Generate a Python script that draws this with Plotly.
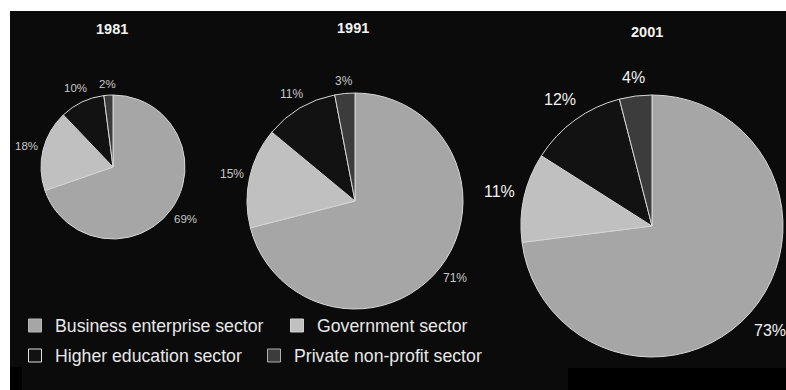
import math
import plotly.graph_objects as go

# --- data -------------------------------------------------------------
years = ["1981", "1991", "2001"]
sectors = [
    "Business enterprise sector",
    "Government sector",
    "Higher education sector",
    "Private non-profit sector",
]
shares_1981 = [69, 18, 10, 2]
shares_1991 = [71, 15, 11, 3]
shares_2001 = [73, 11, 12, 4]
shares_by_year = [shares_1981, shares_1991, shares_2001]

# --- styling ------------------------------------------------------------
W, H = 786, 390
BG = "#0b0b0b"
FONT = "Liberation Sans, Arial, sans-serif"
sector_colors = ["#a6a6a6", "#c0c0c0", "#121212", "#3c3c3c"]
swatch_lines = ["#b8b8b8", "#d0d0d0", "#e0e0e0", "#b0b0b0"]

# pie geometry in pixels: centre x, centre y (from top), radius
pie_geom = [(113, 167, 72), (355, 201, 108), (652, 226, 131)]
label_sizes = [11.5, 12, 16]
label_colors = ["#c8c8c8", "#c8c8c8", "#f2f2f2"]
label_gaps = [4, 4.5, 8]
title_pos = [(112, 29), (353, 28), (647, 32)]


def px_x(x):
    return x / W


def px_y(y):
    return (H - y) / H


fig = go.Figure()
annotations = []

for year, shares, (cx, cy, r), fs, fc, gap in zip(
    years, shares_by_year, pie_geom, label_sizes, label_colors, label_gaps
):
    fig.add_trace(
        go.Pie(
            labels=sectors,
            values=shares,
            name=year,
            sort=False,
            direction="clockwise",
            rotation=0,
            marker=dict(colors=sector_colors, line=dict(color="#d6d6d6", width=1)),
            textinfo="none",
            hoverinfo="skip",
            showlegend=False,
            domain=dict(
                x=[px_x(cx - r), px_x(cx + r)],
                y=[px_y(cy + r), px_y(cy - r)],
            ),
        )
    )

    # percentage labels placed just outside each slice, at its mid-angle
    total = sum(shares)
    cum = 0.0
    for v in shares:
        mid = (cum + v / 2) / total * 2 * math.pi
        cum += v
        text = f"{v}%"
        half_w = (0.556 * (len(text) - 1) + 0.889) * fs / 2
        half_h = 0.6 * fs
        sx, sy = math.sin(mid), -math.cos(mid)
        d = r + gap + abs(sx) * half_w + abs(sy) * half_h
        annotations.append(
            dict(
                text=text,
                x=px_x(cx + d * sx),
                y=px_y(cy + d * sy),
                xref="paper",
                yref="paper",
                showarrow=False,
                xanchor="center",
                yanchor="middle",
                font=dict(size=fs, color=fc, family=FONT),
            )
        )

# legend entries: two rows, each its own legend
legend_ids = ["legend", "legend", "legend2", "legend2"]
legend_widths = [217, 160, 194, 200]
for name, col, lc, lg, lw in zip(sectors, sector_colors, swatch_lines, legend_ids, legend_widths):
    fig.add_trace(
        go.Scatter(
            x=[None],
            y=[None],
            mode="markers",
            name=name,
            marker=dict(symbol="square", size=13, color=col, line=dict(color=lc, width=1)),
            legend=lg,
            legendwidth=lw,
            hoverinfo="skip",
        )
    )

legend_common = dict(
    orientation="h",
    xanchor="left",
    yanchor="middle",
    bgcolor="rgba(0,0,0,0)",
    borderwidth=0,
    font=dict(size=17.7, color="#e8e8e8", family=FONT),
)

annotations += [
    dict(
        text=f"<b>{y}</b>",
        x=px_x(tx),
        y=px_y(ty),
        xref="paper",
        yref="paper",
        showarrow=False,
        xanchor="center",
        yanchor="middle",
        font=dict(size=14.5, color="#f4f4f4", family=FONT),
    )
    for y, (tx, ty) in zip(years, title_pos)
]

shapes = [
    # page margins around the dark panel
    dict(type="rect", xref="paper", yref="paper", x0=0, x1=1, y0=px_y(11), y1=1,
         fillcolor="white", line=dict(width=0), layer="below"),
    dict(type="rect", xref="paper", yref="paper", x0=0, x1=px_x(10), y0=0, y1=1,
         fillcolor="white", line=dict(width=0), layer="below"),
    # deeper black strips along the bottom edge
    dict(type="rect", xref="paper", yref="paper", x0=px_x(10), x1=px_x(22), y0=0, y1=px_y(367),
         fillcolor="#000000", line=dict(width=0), layer="below"),
    dict(type="rect", xref="paper", yref="paper", x0=px_x(568), x1=1, y0=0, y1=px_y(368),
         fillcolor="#000000", line=dict(width=0), layer="below"),
]

fig.update_layout(
    width=W,
    height=H,
    margin=dict(l=0, r=0, t=0, b=0),
    paper_bgcolor=BG,
    plot_bgcolor="rgba(0,0,0,0)",
    xaxis=dict(visible=False),
    yaxis=dict(visible=False),
    showlegend=True,
    legend=dict(x=px_x(15), y=px_y(326), **legend_common),
    legend2=dict(x=px_x(15), y=px_y(356), **legend_common),
    annotations=annotations,
    shapes=shapes,
    hovermode=False,
)

fig.write_html("out.html", config={"displayModeBar": False})
